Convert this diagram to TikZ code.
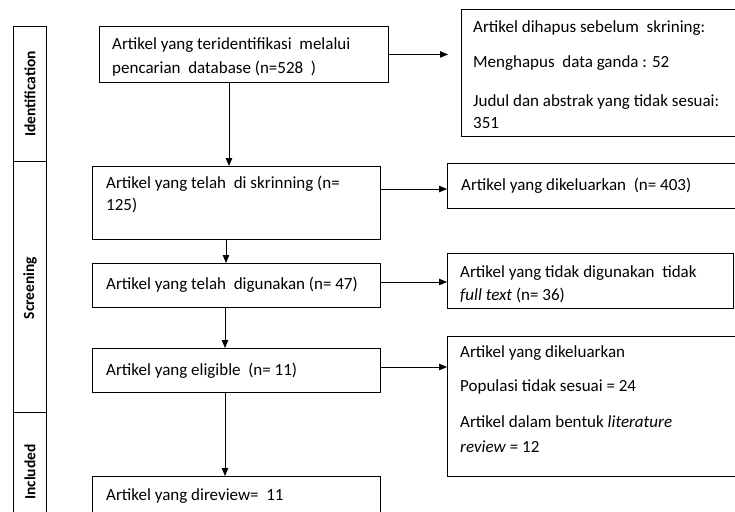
\documentclass[tikz,border=0pt]{standalone}
\usepackage{fontspec}
\setmainfont{Carlito}
\usetikzlibrary{arrows.meta,calc}
\begin{document}
\begin{tikzpicture}[x=1pt,y=-1pt,
  box/.style={draw=black, line width=0.9pt, rectangle, inner sep=0pt, anchor=north west},
  txt/.style={anchor=base west, inner sep=0pt, font=\fontsize{17}{20}\selectfont},
  sidelabel/.style={font=\fontsize{15.5}{18}\selectfont\bfseries, rotate=90, inner sep=0pt},
  arr/.style={-{Triangle[length=8pt,width=6.5pt]}, line width=0.8pt}]
\useasboundingbox (0,0) rectangle (735,511);
\clip (0,0) rectangle (735,511);
% side sections
\node[box, minimum width=33pt, minimum height=135pt] (s1) at (13,26) {};
\node[box, minimum width=33pt, minimum height=251pt] (s2) at (13,161) {};
\node[box, minimum width=33pt, minimum height=130pt] (s3) at (13,412) {};
\node[sidelabel] (l1) at (30,94) {Identification};
\node[sidelabel] (l2) at (30,288) {Screening};
\node[sidelabel] (l3) at (30,472) {Included};
% main boxes
\node[box, minimum width=289pt, minimum height=56pt] (b1) at (99,26) {};
\node[box, minimum width=288pt, minimum height=73pt] (b2) at (92,166) {};
\node[box, minimum width=288pt, minimum height=44pt] (b3) at (92,263) {};
\node[box, minimum width=288pt, minimum height=44pt] (b4) at (92,348) {};
\node[box, minimum width=288pt, minimum height=60pt] (b5) at (92,476) {};
\node[box, minimum width=290pt, minimum height=127pt] (r1) at (461,9) {};
\node[box, minimum width=300pt, minimum height=45pt] (r2) at (447,163) {};
\node[box, minimum width=286pt, minimum height=55pt] (r3) at (447,253) {};
\node[box, minimum width=300pt, minimum height=140pt] (r4) at (447,336) {};
% texts
\node[txt] (t1a) at (112,49) {Artikel yang teridentifikasi~ melalui};
\node[txt] (t1b) at (112,73) {pencarian~ database (n=528~ )};
\node[txt] (t2a) at (106,188) {Artikel yang telah~ di skrinning (n=};
\node[txt] (t2b) at (106,210) {125)};
\node[txt] (t3) at (106,289) {Artikel yang telah~ digunakan (n= 47)};
\node[txt] (t4) at (106,375) {Artikel yang eligible~ (n= 11)};
\node[txt] (t5) at (106,500) {Artikel yang direview=~ 11};
\node[txt] (u1a) at (473,33) {Artikel dihapus sebelum~ skrining:};
\node[txt] (u1b) at (473,67) {Menghapus~ data ganda : 52};
\node[txt] (u1c) at (473,106) {Judul dan abstrak yang tidak sesuai:};
\node[txt] (u1d) at (473,128) {351};
\node[txt] (u2) at (461,190) {Artikel yang dikeluarkan~ (n= 403)};
\node[txt] (u3a) at (460,277) {Artikel yang tidak digunakan~ tidak};
\node[txt] (u3b) at (460,300) {\textit{full text} (n= 36)};
\node[txt] (u4a) at (460,357) {Artikel yang dikeluarkan};
\node[txt] (u4b) at (460,391) {Populasi tidak sesuai = 24};
\node[txt] (u4c) at (460,427) {Artikel dalam bentuk \textit{literature}};
\node[txt] (u4d) at (460,452) {\textit{review} = 12};
% connector guides
\coordinate (xa) at (229,0);
\coordinate (xb) at (226,0);
\coordinate (xc) at (225,0);
\coordinate (ya) at (0,189);
\coordinate (yb) at (0,282);
\coordinate (yc) at (0,367);
% connectors
\draw[arr, shorten >=13pt] (b1.east) -- (b1.east -| r1.west);
\draw[arr] (b2.east |- ya) -- (r2.west |- ya);
\draw[arr] (b3.east |- yb) -- (r3.west |- yb);
\draw[arr] (b4.east |- yc) -- (r4.west |- yc);
\draw[arr] (b1.south -| xa) -- (b2.north -| xa);
\draw[arr] (b2.south -| xb) -- (b3.north -| xb);
\draw[arr] (b3.south -| xc) -- (b4.north -| xc);
\draw[arr] (b4.south -| xc) -- (b5.north -| xc);
\end{tikzpicture}
\end{document}
